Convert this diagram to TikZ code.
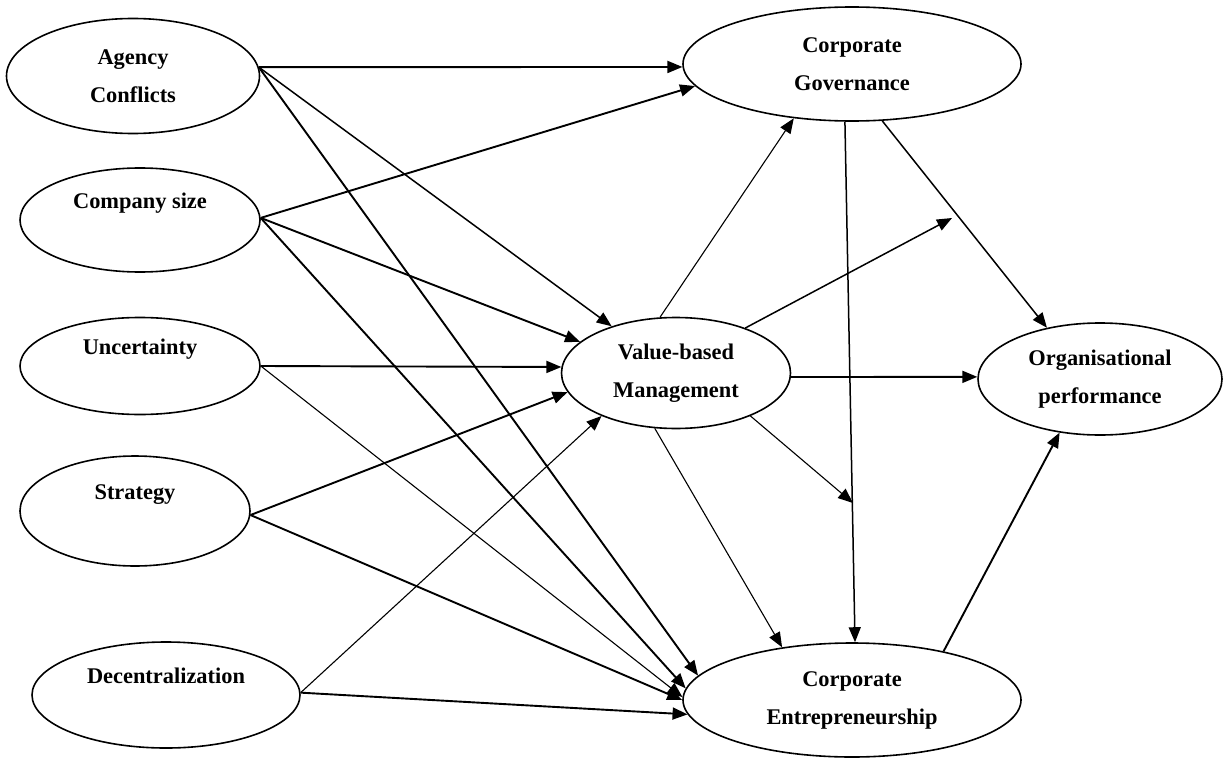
\documentclass[tikz,border=0pt]{standalone}
\usepackage{fontspec}
\setmainfont{Liberation Serif}
\usetikzlibrary{arrows.meta,shapes.geometric}
\begin{document}
\begin{tikzpicture}[x=1pt,y=-1pt,
  construct/.style={ellipse, draw, line width=1.6pt, inner sep=0pt, align=center,
    font=\bfseries\fontsize{22.4}{38}\selectfont},
  tip/.style={-{Triangle[length=15pt,width=12pt]}},
  heavy/.style={tip, line width=1.9pt},
  medium/.style={tip, line width=1.5pt},
  light/.style={tip, line width=1.1pt},
]
\useasboundingbox (0,0) rectangle (1225,757);

% antecedents
\node[construct, minimum width=253pt, minimum height=115pt] (ac) at (133,76) {Agency\\Conflicts};
\node[construct, minimum width=240pt, minimum height=104pt] (cs) at (140,220) {Company size\\\mbox{}};
\node[construct, minimum width=240pt, minimum height=97pt]  (un) at (140,366) {Uncertainty\\\mbox{}};
\node[construct, minimum width=230pt, minimum height=110pt] (st) at (135,511) {Strategy\\\mbox{}};
\node[construct, minimum width=268pt, minimum height=106pt] (de) at (166,695) {Decentralization\\\mbox{}};

% mediators and outcome
\node[construct, minimum width=338pt, minimum height=114pt] (cg)  at (852,64)   {Corporate\\Governance};
\node[construct, minimum width=229pt, minimum height=111pt] (vbm) at (676,373)  {Value-based\\Management};
\node[construct, minimum width=244pt, minimum height=112pt] (op)  at (1100,379) {Organisational\\performance};
\node[construct, minimum width=338pt, minimum height=114pt] (ce)  at (852,700)  {Corporate\\Entrepreneurship};

% moderating arrow targets
\coordinate (m1) at (952,218);
\coordinate (m2) at (853,503);

% paths from the antecedents
\draw[heavy]  (ac.4) -- (cg.181);
\draw[medium] (ac.4) -- (vbm.144);
\draw[heavy]  (ac.4) -- (ce.171);
\draw[heavy]  (cs.1) -- (cg.188);
\draw[heavy]  (cs.1) -- (vbm.162);
\draw[heavy]  (cs.1) -- (ce.176);
\draw[heavy]  (un.0) -- (vbm.177);
\draw[light]  (un.0) -- (ce.179);
\draw[heavy]  (st.358) -- (vbm.190);
\draw[heavy]  (st.358) -- (ce.180);
\draw[light]  (de.1) -- (vbm.210);
\draw[heavy]  (de.1) -- (ce.185);

% paths from value-based management
\draw[light]  (vbm.106) -- (cg.223);
\draw[medium] (vbm.33) -- (m1);
\draw[heavy]  (vbm.358) -- (op.179);
\draw[light]  (vbm.330) -- (m2);
\draw[light]  (vbm.249) -- (ce.143);

% paths towards performance
\draw[medium] (cg.263) -- (ce.87);
\draw[medium] (cg.298) -- (op.136);
\draw[heavy]  (ce.28) -- (op.233);
\end{tikzpicture}
\end{document}
